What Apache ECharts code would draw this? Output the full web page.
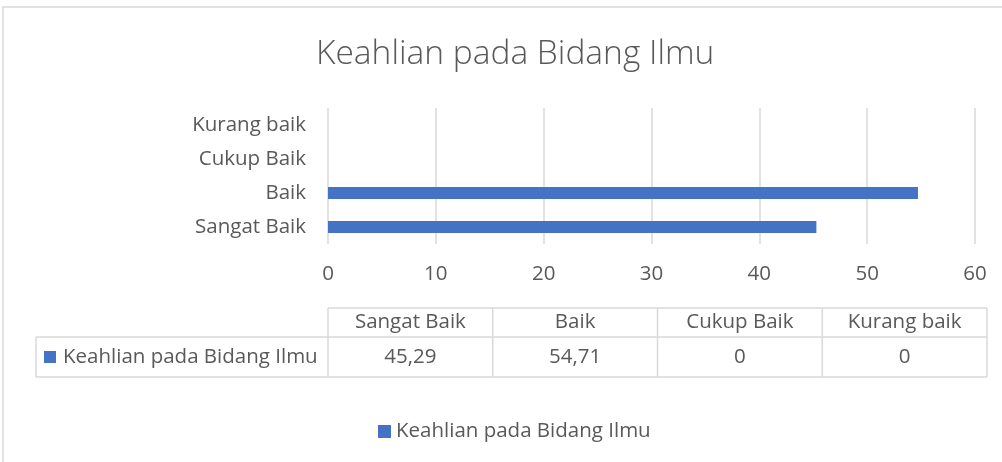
<!DOCTYPE html>
<html>
<head>
<meta charset="utf-8">
<script src="https://cdn.jsdelivr.net/npm/echarts@6/dist/echarts.min.js"></script>
<style>
  html, body { margin: 0; padding: 0; background: #fff; }
  #main { width: 1002px; height: 462px; }
</style>
</head>
<body>
<div id="main"></div>
<script>
// data
var seriesName = 'Keahlian pada Bidang Ilmu';
var categories = ['Sangat Baik', 'Baik', 'Cukup Baik', 'Kurang baik'];
var values = [45.29, 54.71, 0, 0];
var tableValues = ['45,29', '54,71', '0', '0'];

var FONT = 'Open Sans';
var TXT = '#595959';
var LINE = '#d9d9d9';
var BLUE = '#4472C4';
var FS = 20.5;

var chartDom = document.getElementById('main');
var myChart = echarts.init(chartDom);

// data table drawn with graphic elements
var tLeft = 328, tRight = 987, rowLeft = 36;
var hTop = 308, hBot = 337, dBot = 377;
var colW = (tRight - tLeft) / categories.length;
var font = FS + 'px "' + FONT + '"';
var graphic = [];
// outer chart border
graphic.push({ type: 'rect', shape: { x: 3, y: 7, width: 1020, height: 480 },
    style: { fill: 'none', stroke: LINE, lineWidth: 1.5 }, silent: true });
// horizontal lines
graphic.push({ type: 'line', shape: { x1: tLeft, y1: hTop, x2: tRight, y2: hTop }, style: { stroke: LINE, lineWidth: 1.5 } });
graphic.push({ type: 'line', shape: { x1: rowLeft, y1: hBot, x2: tRight, y2: hBot }, style: { stroke: LINE, lineWidth: 1.5 } });
graphic.push({ type: 'line', shape: { x1: rowLeft, y1: dBot, x2: tRight, y2: dBot }, style: { stroke: LINE, lineWidth: 1.5 } });
// vertical lines
graphic.push({ type: 'line', shape: { x1: rowLeft, y1: hBot, x2: rowLeft, y2: dBot }, style: { stroke: LINE, lineWidth: 1.5 } });
for (var i = 0; i <= categories.length; i++) {
    var x = tLeft + i * colW;
    graphic.push({ type: 'line', shape: { x1: x, y1: hTop, x2: x, y2: dBot }, style: { stroke: LINE, lineWidth: 1.5 } });
}
// header and values
categories.forEach(function (c, i) {
    var cx = tLeft + (i + 0.5) * colW;
    graphic.push({ type: 'text', x: cx, y: (hTop + hBot) / 2, style: {
        text: c, fill: TXT, font: font, align: 'center', verticalAlign: 'middle' } });
    graphic.push({ type: 'text', x: cx, y: (hBot + dBot) / 2, style: {
        text: tableValues[i], fill: TXT, font: font, align: 'center', verticalAlign: 'middle' } });
});
// series key in the table
graphic.push({ type: 'rect', shape: { x: 44, y: 351, width: 12, height: 12 }, style: { fill: BLUE } });
graphic.push({ type: 'text', x: 63, y: (hBot + dBot) / 2, style: {
    text: seriesName, fill: TXT, font: font, align: 'left', verticalAlign: 'middle' } });

const option = {
    animation: false,
    backgroundColor: '#fff',
    title: {
        text: seriesName,
        left: 311,
        top: 32,
        textStyle: { fontFamily: FONT, fontWeight: 300, fontSize: 33.5, color: TXT }
    },
    legend: {
        data: [seriesName],
        left: 373,
        top: 416,
        icon: 'rect',
        itemWidth: 13,
        itemHeight: 13,
        itemGap: 6,
        textStyle: { fontFamily: FONT, fontSize: FS, color: TXT }
    },
    grid: { left: 328, right: 27, top: 108, bottom: 218 },
    xAxis: {
        type: 'value',
        min: 0,
        max: 60,
        interval: 10,
        axisLine: { show: false },
        axisTick: { show: false },
        axisLabel: { fontFamily: FONT, fontSize: FS, color: TXT, margin: 20 },
        splitLine: { lineStyle: { color: LINE, width: 1.5 } }
    },
    yAxis: {
        type: 'category',
        data: categories,
        axisLine: { show: false },
        axisTick: { show: false },
        axisLabel: { fontFamily: FONT, fontSize: FS, color: TXT, margin: 22 }
    },
    series: [
        {
            name: seriesName,
            type: 'bar',
            data: values,
            barWidth: 12,
            itemStyle: { color: BLUE }
        }
    ],
    graphic: graphic
};
myChart.setOption(option);
</script>
</body>
</html>
